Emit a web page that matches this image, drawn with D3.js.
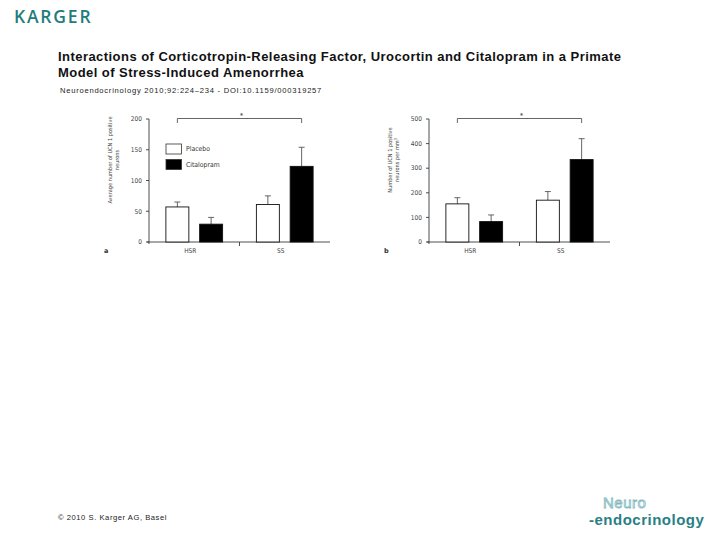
<!DOCTYPE html>
<html>
<head>
<meta charset="utf-8">
<script src="https://cdn.jsdelivr.net/npm/d3@7"></script>
<style>
  body { margin: 0; background: #fff; }
  svg { display: block; }
</style>
</head>
<body>
<svg id="chart" width="720" height="540"></svg>
<script>
const groups = ['HSR', 'SS'];
const series = ['Placebo', 'Citalopram'];
const seriesFill = ['#fff', '#000'];

// panel a: average number of UCN 1 positive neurons
const aMeans = [[57, 29], [61, 123]];
const aErrors = [[65, 40], [75, 154]];
const aTicks = [0, 50, 100, 150, 200];

// panel b: UCN 1 positive neurons per mm3
const bMeans = [[155, 83], [170, 335]];
const bErrors = [[180, 110], [205, 420]];
const bTicks = [0, 100, 200, 300, 400, 500];

const svg = d3.select('#chart');
const ink = '#3a3a3a';

// header
svg.append('text')
  .attr('x', 14).attr('y', 23)
  .attr('font-family', 'Open Sans, sans-serif')
  .attr('font-weight', 600)
  .attr('font-size', 17.5)
  .attr('letter-spacing', 1.8)
  .attr('fill', '#1f7c7c')
  .text('KARGER');

svg.append('text')
  .attr('x', 58).attr('y', 61)
  .attr('font-family', 'Liberation Sans, Arial, sans-serif')
  .attr('font-weight', 'bold')
  .attr('font-size', 13)
  .attr('letter-spacing', 0.45)
  .attr('fill', '#111')
  .text('Interactions of Corticotropin-Releasing Factor, Urocortin and Citalopram in a Primate');
svg.append('text')
  .attr('x', 58).attr('y', 77)
  .attr('font-family', 'Liberation Sans, Arial, sans-serif')
  .attr('font-weight', 'bold')
  .attr('font-size', 13)
  .attr('letter-spacing', 0.45)
  .attr('fill', '#111')
  .text('Model of Stress-Induced Amenorrhea');
svg.append('text')
  .attr('x', 60).attr('y', 93)
  .attr('font-family', 'Liberation Sans, Arial, sans-serif')
  .attr('font-size', 7.6)
  .attr('letter-spacing', 0.75)
  .attr('fill', '#222')
  .text('Neuroendocrinology 2010;92:224–234 -  DOI:10.1159/000319257');

// footer
svg.append('text')
  .attr('x', 58).attr('y', 520)
  .attr('font-family', 'Liberation Sans, Arial, sans-serif')
  .attr('font-size', 7.6)
  .attr('letter-spacing', 0.55)
  .attr('fill', '#222')
  .text('© 2010  S. Karger AG, Basel');

svg.append('text')
  .attr('x', 603).attr('y', 508)
  .attr('font-family', 'Liberation Sans, Arial, sans-serif')
  .attr('font-size', 15)
  .attr('fill', '#fff')
  .attr('stroke', '#7fb8bd')
  .attr('stroke-width', 0.8)
  .attr('letter-spacing', 0.5)
  .text('Neuro');
svg.append('text')
  .attr('x', 589).attr('y', 525)
  .attr('font-family', 'Liberation Sans, Arial, sans-serif')
  .attr('font-weight', 'bold')
  .attr('font-size', 15)
  .attr('letter-spacing', 0.5)
  .attr('fill', '#2a7f86')
  .text('-endocrinology');

function drawPanel(opts) {
  const g = svg.append('g');
  const y = d3.scaleLinear().domain(opts.domain).range([242, 119]);
  const x0 = d3.scaleBand().domain(groups).range(opts.xr);
  const x1 = d3.scaleBand().domain(series).range([0, x0.bandwidth()])
    .paddingInner(0.32).paddingOuter(0.5);

  // y axis
  g.append('line')
    .attr('x1', opts.xr[0]).attr('x2', opts.xr[0])
    .attr('y1', y.range()[1]).attr('y2', y.range()[0] + 2)
    .attr('stroke', ink).attr('stroke-width', 0.9);
  const ty = g.selectAll('.yt').data(opts.ticks).enter().append('g')
    .attr('transform', d => `translate(${opts.xr[0]},${y(d)})`);
  ty.append('line').attr('x1', -3).attr('x2', 0).attr('stroke', ink).attr('stroke-width', 0.9);
  ty.append('text')
    .attr('x', -7).attr('dy', '0.35em')
    .attr('text-anchor', 'end')
    .attr('font-family', 'DejaVu Sans Condensed, sans-serif')
    .attr('font-size', 6.5)
    .attr('fill', '#444')
    .text(d => d);

  // x axis
  g.append('line')
    .attr('x1', opts.xr[0] - 2).attr('x2', opts.xr[1])
    .attr('y1', y(0)).attr('y2', y(0))
    .attr('stroke', ink).attr('stroke-width', 0.9);
  g.append('line')
    .attr('x1', x0('SS')).attr('x2', x0('SS'))
    .attr('y1', y(0)).attr('y2', y(0) + 4)
    .attr('stroke', ink).attr('stroke-width', 0.9);
  g.selectAll('.xl').data(groups).enter().append('text')
    .attr('x', d => x0(d) + x0.bandwidth() / 2 - 4)
    .attr('y', y(0) + 11)
    .attr('text-anchor', 'middle')
    .attr('font-family', 'DejaVu Sans Condensed, sans-serif')
    .attr('font-size', 6.5)
    .attr('fill', '#444')
    .text(d => d);

  // bars and error bars
  const cells = [];
  groups.forEach((gr, i) => series.forEach((s, j) => {
    cells.push({ gr, s, j, v: opts.means[i][j], e: opts.errors[i][j] });
  }));
  const cell = g.selectAll('.cell').data(cells).enter().append('g')
    .attr('transform', d => `translate(${x0(d.gr) + x1(d.s)},0)`);
  cell.append('line')
    .attr('x1', x1.bandwidth() / 2).attr('x2', x1.bandwidth() / 2)
    .attr('y1', d => y(d.v)).attr('y2', d => y(d.e))
    .attr('stroke', '#555').attr('stroke-width', 0.9);
  cell.append('line')
    .attr('x1', x1.bandwidth() / 2 - 3).attr('x2', x1.bandwidth() / 2 + 3)
    .attr('y1', d => y(d.e)).attr('y2', d => y(d.e))
    .attr('stroke', '#555').attr('stroke-width', 0.9);
  cell.append('rect')
    .attr('x', 0).attr('width', x1.bandwidth())
    .attr('y', d => y(d.v)).attr('height', d => y(0) - y(d.v))
    .attr('fill', d => seriesFill[d.j])
    .attr('stroke', '#111').attr('stroke-width', 0.9);

  // significance bracket
  const bx1 = x0('HSR') + x1('Placebo') + x1.bandwidth() / 2;
  const bx2 = x0('SS') + x1('Citalopram') + x1.bandwidth() / 2;
  g.append('path')
    .attr('d', `M${bx1},${y.range()[1] + 4}V${y.range()[1] - 0.5}H${bx2}V${y.range()[1] + 4}`)
    .attr('fill', 'none').attr('stroke', '#555').attr('stroke-width', 0.9);
  g.append('text')
    .attr('x', (bx1 + bx2) / 2 + 2).attr('y', y.range()[1] - 1)
    .attr('text-anchor', 'middle')
    .attr('font-family', 'DejaVu Sans, sans-serif')
    .attr('font-size', 7)
    .attr('fill', '#333')
    .text('*');

  // y label
  const lab = g.append('text')
    .attr('transform', `translate(${opts.labelX},160) rotate(-90)`)
    .attr('text-anchor', 'middle')
    .attr('font-family', 'DejaVu Sans Condensed, sans-serif')
    .attr('font-size', 5.6)
    .attr('fill', '#444');
  lab.append('tspan').attr('x', 0).attr('y', 0).text(opts.label[0]);
  lab.append('tspan').attr('x', 0).attr('y', 6.5).html(opts.label[1]);

  g.append('text')
    .attr('x', opts.xr[0] - 45).attr('y', 253)
    .attr('font-family', 'DejaVu Sans, sans-serif')
    .attr('font-weight', 'bold')
    .attr('font-size', 6.5)
    .attr('fill', '#333')
    .text(opts.letter);

  if (opts.legend) {
    const lg = g.selectAll('.lg').data(series).enter().append('g')
      .attr('transform', (d, i) => `translate(166,${144 + i * 15.5})`);
    lg.append('rect')
      .attr('width', 15.5).attr('height', 10)
      .attr('fill', (d, i) => seriesFill[i])
      .attr('stroke', '#333').attr('stroke-width', 0.8);
    lg.append('text')
      .attr('x', 20).attr('y', 5).attr('dy', '0.35em')
      .attr('font-family', 'DejaVu Sans Condensed, sans-serif')
      .attr('font-size', 6.8)
      .attr('fill', '#333')
      .text(d => d);
  }
}

drawPanel({
  xr: [149, 330], domain: [0, 200], ticks: aTicks,
  means: aMeans, errors: aErrors,
  label: ['Average number of UCN 1 positive', 'neurons'],
  labelX: 112, letter: 'a', legend: true
});
drawPanel({
  xr: [429, 610], domain: [0, 500], ticks: bTicks,
  means: bMeans, errors: bErrors,
  label: ['Number of UCN 1 positive', 'neurons per mm<tspan dy="-2" font-size="4">3</tspan>'],
  labelX: 392, letter: 'b', legend: false
});
</script>
</body>
</html>
